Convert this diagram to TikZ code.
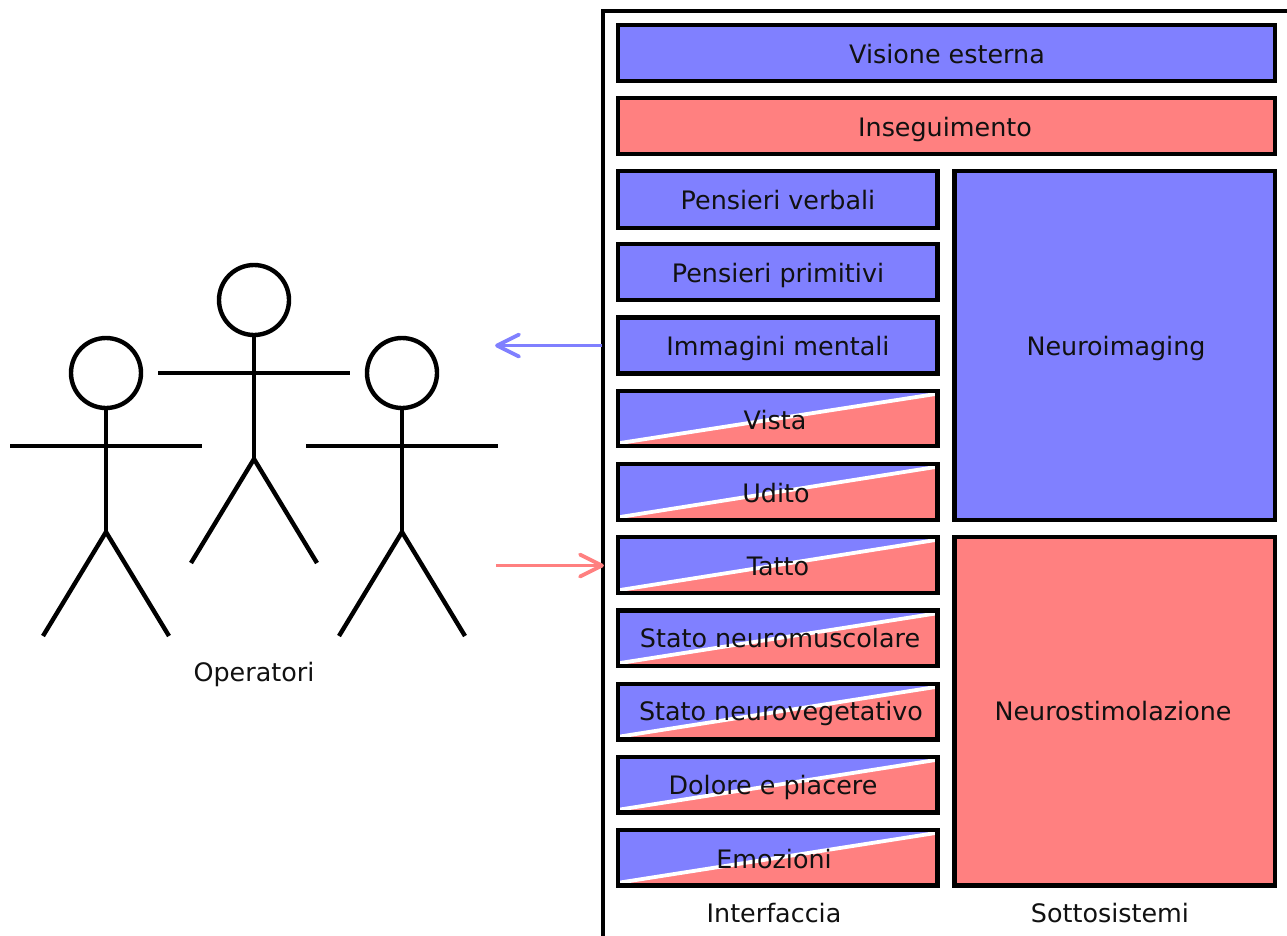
\documentclass[tikz,border=0pt]{standalone}
\usepackage{fontspec}
\setmainfont{DejaVu Sans}
\usetikzlibrary{arrows.meta,calc}
\definecolor{bluefill}{HTML}{8080FF}
\definecolor{redfill}{HTML}{FF8080}
\definecolor{inktext}{HTML}{111111}
\pgfdeclarearrow{
  name=VBarb,
  setup code={\pgfarrowssettipend{0pt}\pgfarrowssetlineend{-2pt}},
  drawing code={
    \pgfsetdash{}{0pt}\pgfsetroundcap\pgfsetroundjoin
    \pgfpathmoveto{\pgfqpoint{-23pt}{11pt}}
    \pgfpathlineto{\pgfqpoint{-1pt}{0pt}}
    \pgfpathlineto{\pgfqpoint{-23pt}{-11pt}}
    \pgfusepathqstroke
  }
}
\tikzset{
  bx/.style={draw=black,line width=4.8pt,inner sep=0pt,outer sep=0pt,anchor=north west},
  bluebox/.style={bx,fill=bluefill},
  redbox/.style={bx,fill=redfill},
  splitbox/.style={bx,fill=bluefill,path picture={
    \coordinate (sw) at (path picture bounding box.south west);
    \coordinate (se) at (path picture bounding box.south east);
    \coordinate (ne) at (path picture bounding box.north east);
    \fill[redfill] ($(sw)+(0,-3)$) -- ($(ne)+(0,3)$) -- (se) -- (sw) -- cycle;
    \draw[white,line width=3.8pt] ($(sw)+(2,-3)$) -- ($(ne)+(-2,3)$);
  }},
  lbl/.style={anchor=base,font=\fontsize{25.4}{28}\selectfont,text=inktext,inner sep=0pt,outer sep=0pt},
  limb/.style={line width=4.4pt},
  head/.style={circle,draw=black,line width=4.4pt,minimum size=70pt,inner sep=0pt,outer sep=0pt},
  bluearrow/.style={draw=bluefill,line width=3.8pt,-VBarb},
  redarrow/.style={draw=redfill,line width=3.8pt,-VBarb},
}
\newcommand{\mybox}[6]{\node[#1,minimum width=#4-#2,minimum height=#5-#3] (#6) at (#2,#3) {};}
\newcommand{\stickman}[3]{%
  \node[head] (#1head) at (#2,#3) {};
  \coordinate (#1hip) at (#2,#3+159);
  \coordinate (#1armL) at (#2-96,#3+73);
  \coordinate (#1armR) at (#2+96,#3+73);
  \coordinate (#1footL) at (#2-63,#3+263);
  \coordinate (#1footR) at (#2+63,#3+263);
  \draw[limb] (#1head.south) -- (#1hip);
  \draw[limb] (#1armL) -- (#1armR);
  \draw[limb] (#1footL) -- (#1hip) -- (#1footR);
}
\begin{document}
\begin{tikzpicture}[x=1pt,y=-1pt]
\useasboundingbox (0,0) rectangle (1287,935);
\clip (0,0) rectangle (1287,935);
\fill[white] (0,0) rectangle (1287,935);
\node[draw=black,line width=4.8pt,inner sep=0pt,outer sep=0pt,anchor=north west,minimum width=760pt,minimum height=1000pt] (frame) at (603,11) {};
\mybox{bluebox}{618}{25}{1275}{81}{visione}
\mybox{redbox}{618}{98}{1275}{154}{insegui}
\mybox{bluebox}{618}{171}{937.5}{228}{verbali}
\mybox{bluebox}{618}{244}{937.5}{300}{primitivi}
\mybox{bluebox}{618}{317.5}{937.5}{373.5}{immagini}
\mybox{splitbox}{618}{391}{937.5}{446}{vista}
\mybox{splitbox}{618}{464}{937.5}{520}{udito}
\mybox{splitbox}{618}{537}{937.5}{593}{tatto}
\mybox{splitbox}{618}{610.5}{937.5}{666}{neuromusc}
\mybox{splitbox}{618}{684}{937.5}{739.5}{neuroveg}
\mybox{splitbox}{618}{757}{937.5}{812.5}{dolore}
\mybox{splitbox}{618}{830}{937.5}{885.5}{emozioni}
\mybox{bluebox}{954.5}{171}{1275}{520}{neuroimg}
\mybox{redbox}{954.5}{537}{1275}{885.5}{neurostim}
\node[lbl] (tvisione) at (947,63) {Visione esterna};
\node[lbl] (tinsegui) at (945,136) {Inseguimento};
\node[lbl] (tverbali) at (778,209) {Pensieri verbali};
\node[lbl] (tprimitivi) at (778,282) {Pensieri primitivi};
\node[lbl] (timmagini) at (778,355) {Immagini mentali};
\node[lbl] (tvista) at (775,429) {Vista};
\node[lbl] (tudito) at (776,502) {Udito};
\node[lbl] (ttatto) at (778,575) {Tatto};
\node[lbl] (tneuromusc) at (780,647) {Stato neuromuscolare};
\node[lbl] (tneuroveg) at (781,720) {Stato neurovegetativo};
\node[lbl] (tdolore) at (773,794) {Dolore e piacere};
\node[lbl] (temozioni) at (774,868) {Emozioni};
\node[lbl] (tneuroimg) at (1116,355) {Neuroimaging};
\node[lbl] (tneurostim) at (1113,720) {Neurostimolazione};
\node[lbl] (interf) at (774,922) {Interfaccia};
\node[lbl] (sotto) at (1110,922) {Sottosistemi};
\node[lbl] (oper) at (254,681) {Operatori};
\stickman{a}{106}{373}
\stickman{b}{254}{300}
\stickman{c}{402}{373}
\coordinate (bluefree) at (496,345.5);
\coordinate (redfree) at (496,565.5);
\coordinate (framebluept) at (602,345.5);
\coordinate (frameredpt) at (603,565.5);
\draw[bluearrow] (framebluept) -- (bluefree);
\draw[redarrow] (redfree) -- (frameredpt);
\end{tikzpicture}
\end{document}
